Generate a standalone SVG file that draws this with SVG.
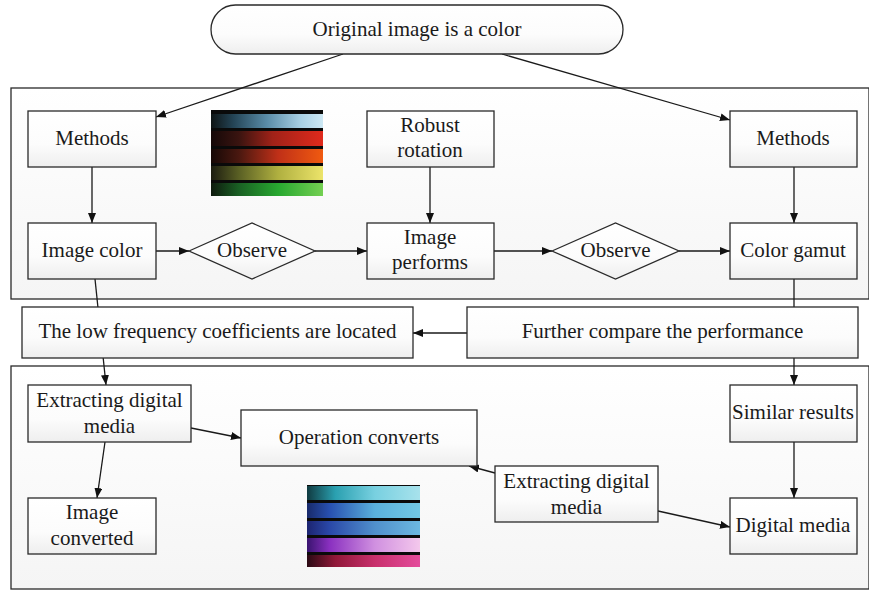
<svg xmlns="http://www.w3.org/2000/svg" width="869" height="590" viewBox="0 0 869 590">
<style>
.box{fill:url(#boxg);stroke:#2a2a2a;stroke-width:1.3}
.cont{fill:url(#contg);stroke:#2a2a2a;stroke-width:1.3}
.t{font-family:"Liberation Serif","Times New Roman",serif;font-size:21px;fill:#1a1a1a;text-anchor:middle}
.c{fill:none;stroke:#1a1a1a;stroke-width:1.3}
</style>
<defs>
<linearGradient id="boxg" x1="0" y1="0" x2="0" y2="1"><stop offset="0" stop-color="#ffffff"/><stop offset="0.6" stop-color="#fcfcfc"/><stop offset="1" stop-color="#eeeeee"/></linearGradient>
<linearGradient id="contg" x1="0" y1="0" x2="0" y2="1"><stop offset="0" stop-color="#ffffff"/><stop offset="1" stop-color="#f5f5f5"/></linearGradient>
<marker id="ah" viewBox="0 0 10 8" refX="10" refY="4" markerWidth="10" markerHeight="8" markerUnits="userSpaceOnUse" orient="auto"><path d="M0,0 L10,4 L0,8 Z" fill="#111"/></marker>
<linearGradient id="s1a"><stop offset="0" stop-color="#0e1414"/><stop offset="0.2" stop-color="#244456"/><stop offset="0.5" stop-color="#5a8ca8"/><stop offset="0.8" stop-color="#a8d0e4"/><stop offset="1" stop-color="#cde8f4"/></linearGradient>
<linearGradient id="s1b"><stop offset="0" stop-color="#140808"/><stop offset="0.25" stop-color="#3a1410"/><stop offset="0.55" stop-color="#a02218"/><stop offset="1" stop-color="#e02a1c"/></linearGradient>
<linearGradient id="s1c"><stop offset="0" stop-color="#160806"/><stop offset="0.25" stop-color="#4a1810"/><stop offset="0.6" stop-color="#c03018"/><stop offset="1" stop-color="#f05a10"/></linearGradient>
<linearGradient id="s1d"><stop offset="0" stop-color="#1c1c10"/><stop offset="0.25" stop-color="#5a6024"/><stop offset="0.6" stop-color="#b0b040"/><stop offset="1" stop-color="#ece46a"/></linearGradient>
<linearGradient id="s1e"><stop offset="0" stop-color="#0e1a0e"/><stop offset="0.25" stop-color="#1a6024"/><stop offset="0.6" stop-color="#28a830"/><stop offset="1" stop-color="#74d052"/></linearGradient>
<linearGradient id="s2a"><stop offset="0" stop-color="#103a40"/><stop offset="0.25" stop-color="#2aa0b0"/><stop offset="0.6" stop-color="#78d0e0"/><stop offset="1" stop-color="#a8e2ec"/></linearGradient>
<linearGradient id="s2b"><stop offset="0" stop-color="#182a6a"/><stop offset="0.2" stop-color="#2850b0"/><stop offset="0.6" stop-color="#5ab0dc"/><stop offset="1" stop-color="#72c8e4"/></linearGradient>
<linearGradient id="s2c"><stop offset="0" stop-color="#1c2470"/><stop offset="0.2" stop-color="#2a48a8"/><stop offset="0.6" stop-color="#5090cc"/><stop offset="1" stop-color="#6cb8e0"/></linearGradient>
<linearGradient id="s2d"><stop offset="0" stop-color="#3a1470"/><stop offset="0.2" stop-color="#8a30c0"/><stop offset="0.6" stop-color="#d090e0"/><stop offset="1" stop-color="#f4c8ec"/></linearGradient>
<linearGradient id="s2e"><stop offset="0" stop-color="#2a0a14"/><stop offset="0.25" stop-color="#901838"/><stop offset="0.6" stop-color="#c8306c"/><stop offset="1" stop-color="#e44c9c"/></linearGradient>
</defs>
<rect width="869" height="590" fill="#ffffff"/>
<g id="containers">
<rect class="cont" x="11" y="88" width="858" height="211"/>
<rect class="cont" x="11" y="366" width="858" height="223"/>
</g>
<g id="swatch1">
<rect x="211" y="110" width="112" height="86" fill="#0a0a0a"/>
<rect x="211" y="114" width="112" height="14" fill="url(#s1a)"/>
<rect x="211" y="131" width="112" height="15" fill="url(#s1b)"/>
<rect x="211" y="149" width="112" height="14" fill="url(#s1c)"/>
<rect x="211" y="166" width="112" height="14" fill="url(#s1d)"/>
<rect x="211" y="183" width="112" height="13" fill="url(#s1e)"/>
</g>
<g id="swatch2">
<rect x="307" y="485" width="113" height="82" fill="#0a0a0a"/>
<rect x="307" y="486" width="113" height="14" fill="url(#s2a)"/>
<rect x="307" y="503" width="113" height="15" fill="url(#s2b)"/>
<rect x="307" y="521" width="113" height="14" fill="url(#s2c)"/>
<rect x="307" y="538" width="113" height="14" fill="url(#s2d)"/>
<rect x="307" y="555" width="113" height="12" fill="url(#s2e)"/>
</g>
<g id="connectors">
<line class="c" x1="343" y1="54" x2="156" y2="117" marker-end="url(#ah)"/>
<line class="c" x1="502" y1="54" x2="730" y2="120" marker-end="url(#ah)"/>
<line class="c" x1="92" y1="167" x2="92" y2="223" marker-end="url(#ah)"/>
<line class="c" x1="430" y1="167" x2="430" y2="223" marker-end="url(#ah)"/>
<line class="c" x1="794" y1="167" x2="794" y2="223" marker-end="url(#ah)"/>
<line class="c" x1="156" y1="251" x2="189" y2="251" marker-end="url(#ah)"/>
<line class="c" x1="315" y1="251" x2="367" y2="251" marker-end="url(#ah)"/>
<line class="c" x1="494" y1="251" x2="552" y2="251" marker-end="url(#ah)"/>
<line class="c" x1="679" y1="251" x2="730" y2="251" marker-end="url(#ah)"/>
<line class="c" x1="95" y1="279" x2="106" y2="385" marker-end="url(#ah)"/>
<line class="c" x1="794" y1="279" x2="794" y2="385" marker-end="url(#ah)"/>
<line class="c" x1="467" y1="333" x2="413" y2="333" marker-end="url(#ah)"/>
<line class="c" x1="191" y1="428" x2="241" y2="438" marker-end="url(#ah)"/>
<line class="c" x1="105" y1="442" x2="97" y2="498" marker-end="url(#ah)"/>
<line class="c" x1="495" y1="473" x2="469" y2="466" marker-end="url(#ah)"/>
<line class="c" x1="658" y1="511" x2="730" y2="527" marker-end="url(#ah)"/>
<line class="c" x1="794" y1="442" x2="794" y2="498" marker-end="url(#ah)"/>
</g>
<g id="n-original"><rect class="box" x="211" y="5" width="412" height="49" rx="24.5"/><text class="t" x="417" y="36">Original image is a color</text></g>
<g id="n-methods1"><rect class="box" x="28" y="111" width="128" height="56"/><text class="t" x="92" y="145">Methods</text></g>
<g id="n-robust"><rect class="box" x="367" y="111" width="127" height="56"/><text class="t" x="430" y="132">Robust</text><text class="t" x="430" y="157">rotation</text></g>
<g id="n-methods2"><rect class="box" x="730" y="111" width="127" height="56"/><text class="t" x="793" y="145">Methods</text></g>
<g id="n-imagecolor"><rect class="box" x="28" y="223" width="128" height="56"/><text class="t" x="92" y="257">Image color</text></g>
<g id="n-observe1"><polygon points="189,251 252,223 315,251 252,279" class="box"/><text class="t" x="252" y="257">Observe</text></g>
<g id="n-imageperforms"><rect class="box" x="367" y="223" width="127" height="56"/><text class="t" x="430" y="244">Image</text><text class="t" x="430" y="269">performs</text></g>
<g id="n-observe2"><polygon points="552,251 615.5,223 679,251 615.5,279" class="box"/><text class="t" x="615.5" y="257">Observe</text></g>
<g id="n-colorgamut"><rect class="box" x="730" y="223" width="127" height="56"/><text class="t" x="793" y="257">Color gamut</text></g>
<g id="n-lowfreq"><rect class="box" x="22" y="307" width="391" height="51"/><text class="t" x="217.5" y="338">The low frequency coefficients are located</text></g>
<g id="n-further"><rect class="box" x="467" y="307" width="391" height="51"/><text class="t" x="662.5" y="338">Further compare the performance</text></g>
<g id="n-extract1"><rect class="box" x="28" y="385" width="163" height="57"/><text class="t" x="109.5" y="407">Extracting digital</text><text class="t" x="109.5" y="433">media</text></g>
<g id="n-operation"><rect class="box" x="241" y="410" width="236" height="56"/><text class="t" x="359" y="444">Operation converts</text></g>
<g id="n-similar"><rect class="box" x="730" y="385" width="127" height="57"/><text class="t" x="793" y="419">Similar results</text></g>
<g id="n-imageconverted"><rect class="box" x="28" y="498" width="128" height="56"/><text class="t" x="92" y="519">Image</text><text class="t" x="92" y="545">converted</text></g>
<g id="n-extract2"><rect class="box" x="495" y="466" width="163" height="56"/><text class="t" x="576.5" y="488">Extracting digital</text><text class="t" x="576.5" y="514">media</text></g>
<g id="n-digitalmedia"><rect class="box" x="730" y="498" width="127" height="56"/><text class="t" x="793" y="532">Digital media</text></g>
</svg>
